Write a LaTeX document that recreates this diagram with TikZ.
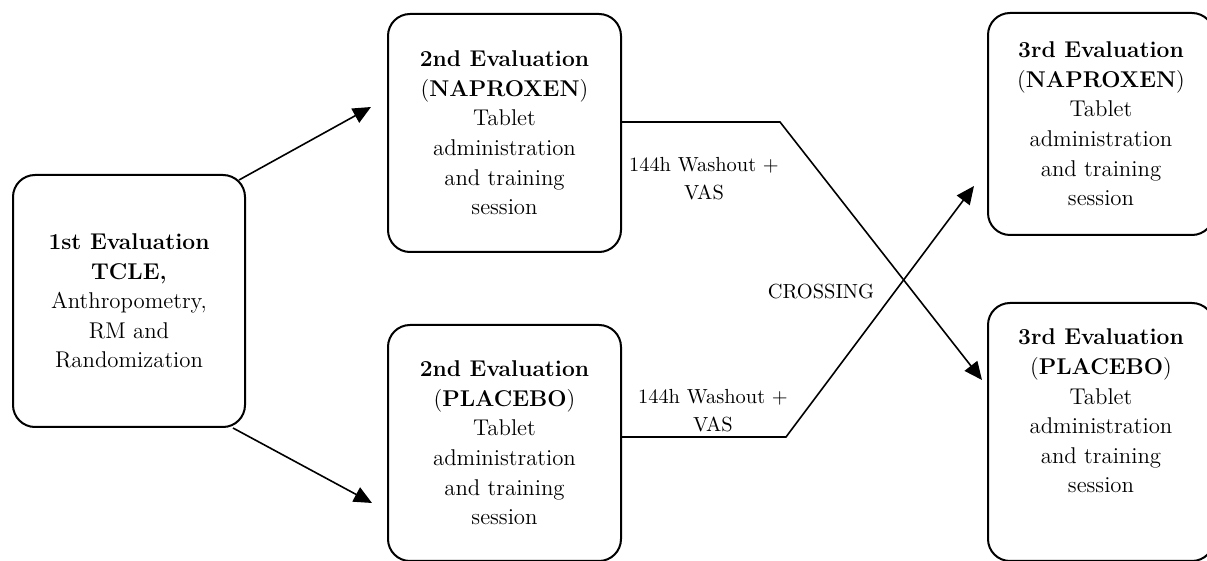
\documentclass[tikz,border=0pt]{standalone}
\usepackage{tikz}
\usetikzlibrary{arrows.meta,calc}

\begin{document}
\begin{tikzpicture}[x=0.5pt,y=-0.5pt,
   evalbox/.style={draw,line width=1pt,rectangle,rounded corners=11pt,align=center,
     font=\fontsize{11.4}{14.8}\selectfont},
   flow/.style={line width=0.8pt,-{Triangle[length=9pt,width=8pt]}},
   note/.style={align=center,font=\fontsize{10.2}{14}\selectfont}]
 \useasboundingbox (0,0) rectangle (1207,561);
 % evaluation boxes (explicit coordinates, pixel grid of the figure)
 \node[evalbox,minimum width=116pt,minimum height=126pt] (b1) at (129,301)
   {\textbf{1st Evaluation}\\ \textbf{TCLE,}\\ Anthropometry,\\ RM and\\ Randomization};
 \node[evalbox,minimum width=116.5pt,minimum height=119pt] (b2n) at (504.5,133)
   {\textbf{2nd Evaluation}\\ (\textbf{NAPROXEN})\\ Tablet\\ administration\\ and training\\ session};
 \node[evalbox,minimum width=116.5pt,minimum height=118pt] (b2p) at (504.5,443)
   {\textbf{2nd Evaluation}\\ (\textbf{PLACEBO})\\ Tablet\\ administration\\ and training\\ session};
 \node[evalbox,minimum width=113pt,minimum height=111pt] (b3n) at (1101,124)
   {\textbf{3rd Evaluation}\\ (\textbf{NAPROXEN})\\ Tablet\\ administration\\ and training\\ session};
 \node[evalbox,minimum width=113pt,minimum height=129pt,text depth=21pt] (b3p) at (1101,432)
   {\textbf{3rd Evaluation}\\ (\textbf{PLACEBO})\\ Tablet\\ administration\\ and training\\ session};
 % labels on the wires
 \node[note] (wash1) at (704,179) {144h Washout +\\ VAS};
 \node[note] (wash2) at (713,411) {144h Washout +\\ VAS};
 \node[note] (cross) at (821,292) {CROSSING};
 % randomization into the two arms
 \draw[flow] ($(b1.north east)+(-7,6)$) -- ($(b2n.west)+(-16,-26)$);
 \draw[flow] ($(b1.south east)+(-13,0)$) -- ($(b2p.west)+(-15,60)$);
 % crossover after washout
 \draw[flow] ($(b2n.east)+(0,-11)$) -- ++(158,0) -- ($(b3p.west)+(-5,-52)$);
 \draw[flow] ($(b2p.east)+(0,-6)$) -- ++(164,0) -- ($(b3n.west)+(-13,62)$);
\end{tikzpicture}
\end{document}
